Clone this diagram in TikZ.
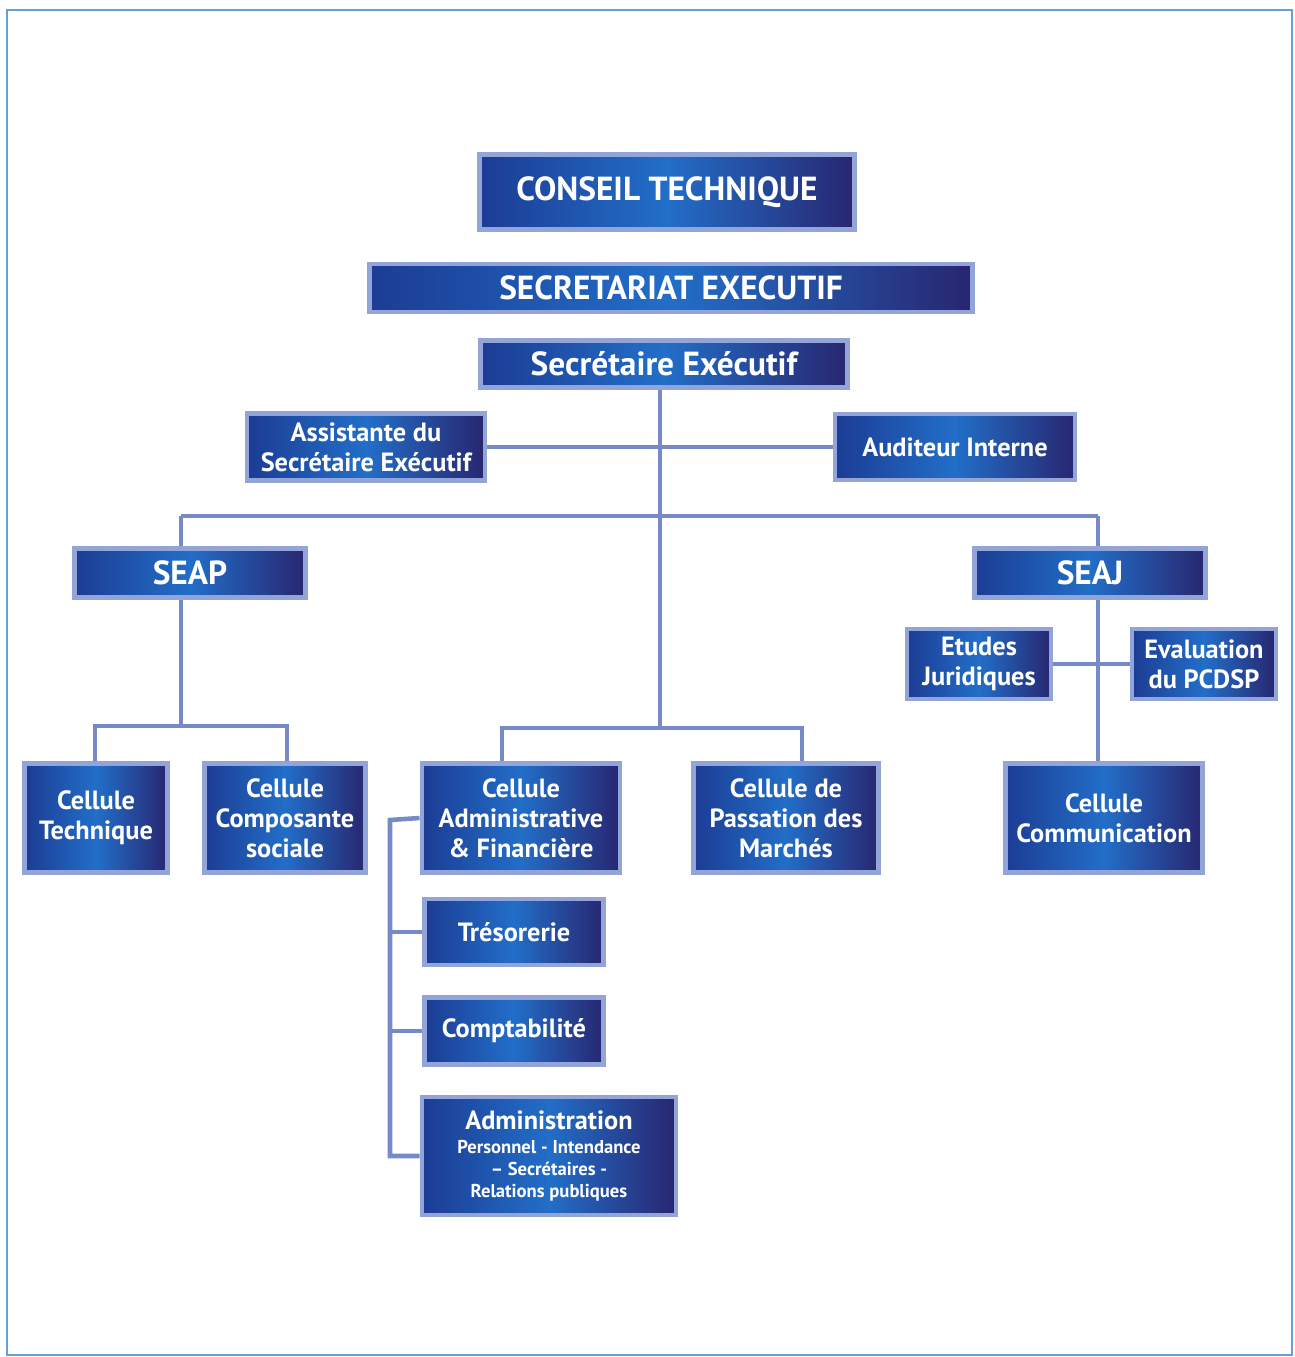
\documentclass[tikz,border=0pt]{standalone}
\usepackage{fontspec}
\setmainfont{PT Sans}
\usetikzlibrary{shadows,backgrounds}
\definecolor{frameblue}{RGB}{100,160,212}
\definecolor{boxedge}{RGB}{146,164,216}
\definecolor{navyL}{RGB}{28,60,148}
\definecolor{blueM}{RGB}{34,110,200}
\definecolor{navyR}{RGB}{40,38,112}
\definecolor{connblue}{RGB}{118,138,200}
\newcommand{\subsz}{\fontsize{10.6}{12.5}\selectfont}
\tikzset{
  orgbox/.style={draw=boxedge, line width=2.8pt, left color=navyL, right color=navyR, middle color=blueM,
    text=white, align=center, inner sep=2pt, font=\bfseries\fontsize{15}{17}\selectfont,
    drop shadow={shadow xshift=1.2pt, shadow yshift=-1.2pt, opacity=0.6, fill=black!85}},
  titlefont/.style={font=\bfseries\fontsize{19}{21}\selectfont},
  conn/.style={draw=connblue, line width=2.6pt}
}
\begin{document}
\begin{tikzpicture}[x=0.02cm, y=-0.02cm]
\useasboundingbox (0,0) rectangle (1295,1357);
\draw[frameblue, line width=1.1pt] (7,10) rectangle (1292,1355);

\coordinate (jtop) at (660,516);
\coordinate (jL) at (181,516);
\coordinate (jR) at (1098,516);
\coordinate (jbot) at (660,728);
\coordinate (cL) at (502,728);
\coordinate (cR) at (802,728);
\coordinate (sL) at (95,726);
\coordinate (sR) at (287,726);
\coordinate (bx) at (390,820);

% boxes
\node[orgbox, titlefont, minimum width=7.5cm, minimum height=1.5cm] (ct) at (667,192) {CONSEIL TECHNIQUE};
\node[orgbox, titlefont, minimum width=12.08cm, minimum height=0.96cm] (sec) at (671,288) {SECRETARIAT EXECUTIF};
\node[orgbox, titlefont, minimum width=7.34cm, minimum height=0.94cm] (se) at (664,364) {Secrétaire Exécutif};
\node[orgbox, minimum width=4.76cm, minimum height=1.34cm] (asst) at (366,447) {Assistante du\\Secrétaire Exécutif};
\node[orgbox, minimum width=4.8cm, minimum height=1.32cm] (aud) at (955,447) {Auditeur Interne};
\node[orgbox, titlefont, minimum width=4.62cm, minimum height=0.98cm] (seap) at (190,573) {SEAP};
\node[orgbox, titlefont, minimum width=4.62cm, minimum height=0.98cm] (seaj) at (1090,573) {SEAJ};
\node[orgbox, minimum width=2.88cm, minimum height=1.4cm] (etj) at (979,664) {Etudes\\Juridiques};
\node[orgbox, minimum width=2.88cm, minimum height=1.4cm] (eval) at (1204,664) {Evaluation\\du PCDSP};
\node[orgbox, minimum width=2.86cm, minimum height=2.18cm] (ctech) at (96,818) {Cellule\\Technique};
\node[orgbox, minimum width=3.22cm, minimum height=2.18cm] (ccs) at (285,818) {Cellule\\Composante\\sociale};
\node[orgbox, minimum width=3.96cm, minimum height=2.18cm] (cadm) at (521,818) {Cellule\\Administrative\\\& Financière};
\node[orgbox, minimum width=3.7cm, minimum height=2.18cm] (cpm) at (786,818) {Cellule de\\Passation des\\Marchés};
\node[orgbox, minimum width=3.94cm, minimum height=2.18cm] (ccom) at (1104,818) {Cellule\\Communication};
\node[orgbox, minimum width=3.58cm, minimum height=1.32cm] (treso) at (514,932) {Trésorerie};
\node[orgbox, minimum width=3.58cm, minimum height=1.34cm] (compta) at (514,1031) {Comptabilité};
\node[orgbox, minimum width=5.08cm, minimum height=2.36cm] (admin) at (549,1156)
  {Administration\\[-3pt]\subsz Personnel - Intendance\\[-4.5pt]\subsz – Secrétaires -\\[-4.5pt]\subsz Relations publiques};

% connectors
\begin{scope}[on background layer]
\draw[conn] (se.south -| jtop) -- (jbot);
\draw[conn] (asst.east) -- (aud.west);
\draw[conn] (jL) -- (jR);
\draw[conn] (jL) -- (jL |- seap.north);
\draw[conn] (jR) -- (jR |- seaj.north);
\draw[conn] (cL |- cadm.north) -- (cL) -- (cR) -- (cR |- cpm.north);
\draw[conn] (jL |- seap.south) -- (jL |- sL);
\draw[conn] (sL |- ctech.north) -- (sL) -- (sR) -- (sR |- ccs.north);
\draw[conn] (jR |- seaj.south) -- (jR |- ccom.north);
\draw[conn] (etj.east) -- (eval.west);
\draw[conn] (cadm.west) -- (bx) -- (bx |- admin.west) -- (admin.west);
\draw[conn] (bx |- treso.west) -- (treso.west);
\draw[conn] (bx |- compta.west) -- (compta.west);
\end{scope}
\end{tikzpicture}
\end{document}
